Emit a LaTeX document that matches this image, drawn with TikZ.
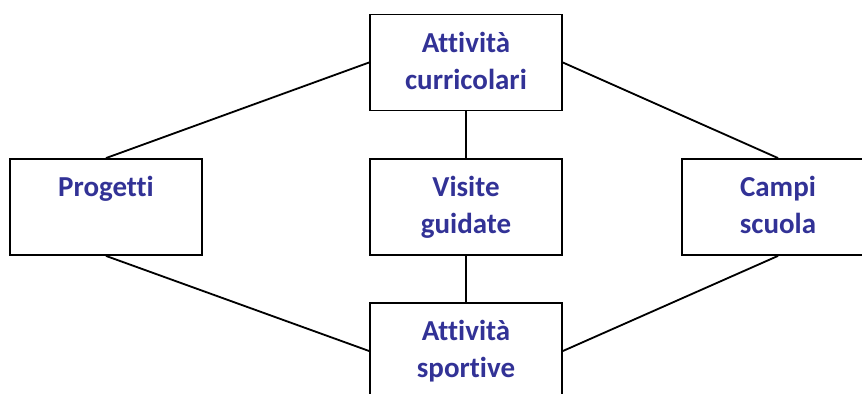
\documentclass[tikz,border=0pt]{standalone}
\usepackage{fontspec}
\setmainfont{Carlito}[Ligatures=NoCommon]
\definecolor{testo}{RGB}{50,50,150}
\newcommand{\voce}[1]{\parbox[c][2.4cm][t]{4.8cm}{\centering\rule{0pt}{0.95cm}#1}}
\tikzset{riquadro/.style={draw, line width=1.3pt, inner sep=0pt, text=testo,
    font=\fontsize{20.6}{26.2}\selectfont\bfseries}}
\begin{document}
\begin{tikzpicture}
                \useasboundingbox (0,0) rectangle (21.55,-9.85);
                \clip (0,0) rectangle (21.55,-9.85);
                \node[riquadro] (curricolari) at (11.65,-1.5625) {\voce{Attività\\curricolari}};
                \node[riquadro] (progetti) at (2.65,-5.175) {\voce{Progetti}};
                \node[riquadro] (visite) at (11.65,-5.175) {\voce{Visite\\guidate}};
                \node[riquadro] (campi) at (19.45,-5.175) {\voce{Campi\\scuola}};
                \node[riquadro] (sportive) at (11.65,-8.775) {\voce{Attività\\sportive}};
                \draw[line width = 1.3pt] (curricolari.west) -- (progetti.north);
                \draw[line width = 1.3pt] (curricolari.east) -- (campi.north);
                \draw[line width = 1.3pt] (curricolari.south) -- (visite.north);
                \draw[line width = 1.3pt] (visite.south) -- (sportive.north);
                \draw[line width = 1.3pt] (progetti.south) -- (sportive.west);
                \draw[line width = 1.3pt] (campi.south) -- (sportive.east);
\end{tikzpicture}
\end{document}
